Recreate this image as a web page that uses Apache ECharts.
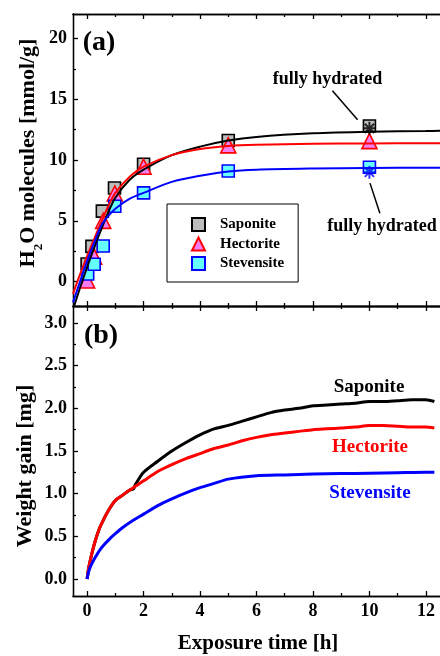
<!DOCTYPE html>
<html><head><meta charset="utf-8">
<script src="https://cdn.jsdelivr.net/npm/echarts@6/dist/echarts.min.js"></script>
<style>html,body{margin:0;padding:0;background:#fff}#c{width:440px;height:656px}</style>
</head><body><div id="c"></div>
<script>
// ---------- Panel (a): H2O molecules [mmol/g] vs exposure time [h] ----------
const sapT = [0, 0.17, 0.54, 0.97, 2, 5, 10];
const sapV = [1.45, 2.9, 5.8, 7.7, 9.65, 11.6, 12.8];
const hecT = [0, 0.25, 0.57, 0.98, 2, 5, 10];
const hecV = [0.1, 2.05, 5.0, 7.25, 9.45, 11.2, 11.55];
const steT = [0.02, 0.25, 0.57, 0.98, 2, 5, 10];
const steV = [0.63, 1.43, 2.93, 6.2, 7.3, 9.1, 9.4];
// fully hydrated points
const hydSapT = [10], hydSapV = [12.6];
const hydSteT = [10], hydSteV = [9.0];
// fitted curves
const fitT   = [-0.5, -0.25, 0, 0.25, 0.5, 0.75, 1, 1.5, 2, 3, 4, 5, 6, 8, 10, 12, 12.5];
const fitSap = [-2.3, -0.5, 1.2, 2.8, 4.3, 5.7, 6.9, 8.35, 9.2, 10.4, 11.1, 11.6, 11.9, 12.2, 12.33, 12.38, 12.4];
const fitHec = [-1.0, 0.6, 2.1, 3.5, 4.9, 6.2, 7.3, 8.6, 9.45, 10.4, 10.9, 11.15, 11.25, 11.33, 11.36, 11.37, 11.37];
const fitSte = [-1.7, 0.0, 1.7, 3.2, 4.6, 5.4, 6.0, 6.8, 7.3, 8.2, 8.7, 9.05, 9.2, 9.3, 9.35, 9.37, 9.37];

// ---------- Panel (b): weight gain [mg] ----------
const wT_hec = [0, 0.05, 0.1, 0.2, 0.3, 0.4, 0.5, 0.75, 1, 1.25, 1.5, 2, 2.5, 3, 3.5, 4, 4.5, 5, 5.5, 6, 6.5, 7, 7.5, 8, 8.5, 9, 9.5, 10, 10.5, 11, 11.5, 12, 12.3];
const wV_hec = [0, 0.12, 0.2, 0.34, 0.46, 0.56, 0.64, 0.8, 0.92, 0.98, 1.04, 1.15, 1.26, 1.34, 1.41, 1.47, 1.53, 1.57, 1.62, 1.66, 1.69, 1.71, 1.73, 1.75, 1.76, 1.77, 1.78, 1.80, 1.80, 1.79, 1.78, 1.78, 1.77];
const wT_sap = [0, 0.05, 0.1, 0.2, 0.3, 0.4, 0.5, 0.75, 1, 1.25, 1.5, 1.65, 1.7, 2, 2.5, 3, 3.5, 4, 4.5, 5, 5.5, 6, 6.5, 7, 7.5, 8, 8.5, 9, 9.5, 10, 10.5, 11, 11.5, 12, 12.3];
const wV_sap = [0, 0.12, 0.2, 0.34, 0.46, 0.56, 0.64, 0.8, 0.92, 0.98, 1.04, 1.06, 1.1, 1.25, 1.38, 1.50, 1.60, 1.69, 1.76, 1.80, 1.85, 1.90, 1.95, 1.98, 2.00, 2.03, 2.04, 2.05, 2.06, 2.08, 2.08, 2.09, 2.10, 2.10, 2.08];
const wT_ste = [0, 0.05, 0.1, 0.2, 0.3, 0.43, 0.6, 0.8, 1, 1.25, 1.5, 2, 2.5, 3, 3.5, 4, 4.5, 5, 6, 7, 8, 9, 10, 11, 12, 12.3];
const wV_ste = [0, 0.08, 0.13, 0.2, 0.26, 0.33, 0.4, 0.47, 0.53, 0.6, 0.66, 0.76, 0.86, 0.94, 1.01, 1.07, 1.12, 1.17, 1.21, 1.22, 1.23, 1.235, 1.24, 1.245, 1.25, 1.25];

// tick values
const xMajor = [0, 2, 4, 6, 8, 10, 12];
const xMinor = [1, 3, 5, 7, 9, 11];
const yaMajor = [0, 5, 10, 15, 20];
const yaMinor = [2.5, 7.5, 12.5, 17.5];
const ybMajor = [0, 0.5, 1.0, 1.5, 2.0, 2.5, 3.0];
const ybMinor = [0.25, 0.75, 1.25, 1.75, 2.25, 2.75];

const FONT = '"Liberation Serif", "Times New Roman", serif';
const zip = (a, b) => a.map((v, i) => [v, b[i]]);

function axis(gridIndex, position, min, max, ticks, len, labels, labelFmt) {
  return {
    type: 'value', gridIndex, position, min, max,
    axisLine: { show: true, onZero: false, lineStyle: { color: '#000', width: 1.3 } },
    splitLine: { show: false },
    axisTick: { show: true, inside: true, length: len, customValues: ticks, lineStyle: { color: '#000', width: 1.3 } },
    axisLabel: labels ? {
      show: true, customValues: labels, color: '#000', fontFamily: FONT, fontWeight: 'bold', fontSize: 18,
      margin: 6, formatter: labelFmt
    } : { show: false }
  };
}

const xAxis = [
  axis(0, 'bottom', -0.5, 12.5, xMajor, 5, null),
  axis(0, 'bottom', -0.5, 12.5, xMinor, 3, null),
  axis(0, 'top', -0.5, 12.5, xMajor, 5, null),
  axis(0, 'top', -0.5, 12.5, xMinor, 3, null),
  axis(1, 'bottom', -0.5, 12.5, xMajor, 5, xMajor, v => String(v)),
  axis(1, 'bottom', -0.5, 12.5, xMinor, 3, null),
  axis(1, 'top', -0.5, 12.5, xMajor, 5, null),
  axis(1, 'top', -0.5, 12.5, xMinor, 3, null)
];
const yAxis = [
  axis(0, 'left', -2, 22, yaMajor, 5, yaMajor, v => String(v)),
  axis(0, 'left', -2, 22, yaMinor, 3, null),
  axis(1, 'left', -0.2, 3.2, ybMajor, 5, ybMajor, v => v.toFixed(1)),
  axis(1, 'left', -0.2, 3.2, ybMinor, 3, null)
];

function fitLine(name, ys, color) {
  return { name, type: 'line', xAxisIndex: 0, yAxisIndex: 0, data: zip(fitT, ys), smooth: 0.3,
    showSymbol: false, symbol: 'none', lineStyle: { color, width: 2 }, z: 4, silent: true };
}
function pts(name, t, v, symbol, size, fill, border) {
  return { name, type: 'scatter', xAxisIndex: 0, yAxisIndex: 0, data: zip(t, v), symbol, symbolSize: size,
    itemStyle: { color: fill, borderColor: border, borderWidth: 1.6, opacity: 1 }, z: 3 };
}
function wLine(name, t, v, color) {
  return { name, type: 'line', xAxisIndex: 4, yAxisIndex: 2, data: zip(t, v), showSymbol: false, symbol: 'none',
    smooth: 0.25, lineStyle: { color, width: 3 }, z: 3, silent: true };
}
const star = 'path://M0,-1L0,1M-1,0L1,0M-0.72,-0.72L0.72,0.72M-0.72,0.72L0.72,-0.72';

const option = {
  animation: false,
  backgroundColor: '#fff',
  grid: [
    { left: 73, top: 14, width: 373, height: 292 },
    { left: 73, top: 306, width: 373, height: 290 }
  ],
  xAxis, yAxis,
  legend: {
    data: ['Saponite', 'Hectorite', 'Stevensite'],
    orient: 'vertical', left: 167, top: 204,
    padding: [13, 14, 11, 24], itemWidth: 13, itemHeight: 13, itemGap: 4.5,
    borderColor: '#000', borderWidth: 1, borderRadius: 0,
    textStyle: { color: '#000', fontFamily: FONT, fontWeight: 'bold', fontSize: 15, lineHeight: 15, padding: [0, 0, 0, 10] },
    selectedMode: false
  },
  series: [
    pts('Saponite', sapT, sapV, 'rect', 12, '#bdbdbd', '#000'),
    pts('Hectorite', hecT, hecV, 'triangle', 15, '#f47ff4', '#ff0000'),
    pts('Stevensite', steT, steV, 'rect', 12, '#66ffff', '#0000ff'),
    fitLine('Saponite fit', fitSap, '#000'),
    fitLine('Hectorite fit', fitHec, '#ff0000'),
    fitLine('Stevensite fit', fitSte, '#0000ff'),
    { name: 'hydrated Saponite', type: 'scatter', xAxisIndex: 0, yAxisIndex: 0, data: zip(hydSapT, hydSapV),
      symbol: star, symbolSize: 13, itemStyle: { color: 'rgba(0,0,0,0)', borderColor: '#000', borderWidth: 2 }, z: 5,
      markLine: { silent: true, symbol: ['none', 'arrow'], symbolSize: [0, 9], label: { show: false },
        lineStyle: { color: '#000', width: 1.5, type: 'solid' },
        data: [
          [{ coord: [8.69, 15.7] }, { coord: [9.58, 13.3] }],
          [{ coord: [10.37, 5.62] }, { coord: [10.02, 8.1] }]
        ] } },
    { name: 'hydrated Stevensite', type: 'scatter', xAxisIndex: 0, yAxisIndex: 0, data: zip(hydSteT, hydSteV),
      symbol: star, symbolSize: 13, itemStyle: { color: 'rgba(0,0,0,0)', borderColor: '#0000ff', borderWidth: 2 }, z: 5 },
    wLine('Saponite weight', wT_sap, wV_sap, '#000'),
    wLine('Hectorite weight', wT_hec, wV_hec, '#ff0000'),
    wLine('Stevensite weight', wT_ste, wV_ste, '#0000ff')
  ],
  graphic: [
    { type: 'text', x: 99, y: 43, style: { text: '(a)', font: 'bold 28px ' + FONT, fill: '#000', align: 'center', verticalAlign: 'middle' } },
    { type: 'text', x: 101, y: 336, style: { text: '(b)', font: 'bold 28px ' + FONT, fill: '#000', align: 'center', verticalAlign: 'middle' } },
    { type: 'text', x: 28, y: 153, rotation: Math.PI / 2,
      style: { text: '{a|H}{s|2}{a|O molecules [mmol/g]}', align: 'center', verticalAlign: 'middle', fill: '#000',
        rich: { a: { fontFamily: FONT, fontWeight: 'bold', fontSize: 22, lineHeight: 34, verticalAlign: 'middle' },
                s: { fontFamily: FONT, fontWeight: 'bold', fontSize: 13, lineHeight: 13, verticalAlign: 'bottom' } } } },
    { type: 'text', x: 25, y: 466, rotation: Math.PI / 2,
      style: { text: 'Weight gain [mg]', font: 'bold 22px ' + FONT, fill: '#000', align: 'center', verticalAlign: 'middle' } },
    { type: 'text', x: 258, y: 644,
      style: { text: 'Exposure time [h]', font: 'bold 21px ' + FONT, fill: '#000', align: 'center', verticalAlign: 'middle' } },
    { type: 'text', x: 327.5, y: 79.5, style: { text: 'fully hydrated', font: 'bold 18px ' + FONT, fill: '#000', align: 'center', verticalAlign: 'middle' } },
    { type: 'text', x: 382, y: 226.7, style: { text: 'fully hydrated', font: 'bold 18px ' + FONT, fill: '#000', align: 'center', verticalAlign: 'middle' } },
    { type: 'text', x: 369, y: 387, style: { text: 'Saponite', font: 'bold 19px ' + FONT, fill: '#000', align: 'center', verticalAlign: 'middle' } },
    { type: 'text', x: 370, y: 447, style: { text: 'Hectorite', font: 'bold 19px ' + FONT, fill: '#ff0000', align: 'center', verticalAlign: 'middle' } },
    { type: 'text', x: 370, y: 493, style: { text: 'Stevensite', font: 'bold 19px ' + FONT, fill: '#0000ff', align: 'center', verticalAlign: 'middle' } }
  ]
};
const chart = echarts.init(document.getElementById('c'), null, { renderer: 'canvas' });
chart.setOption(option);
</script>
</body></html>
